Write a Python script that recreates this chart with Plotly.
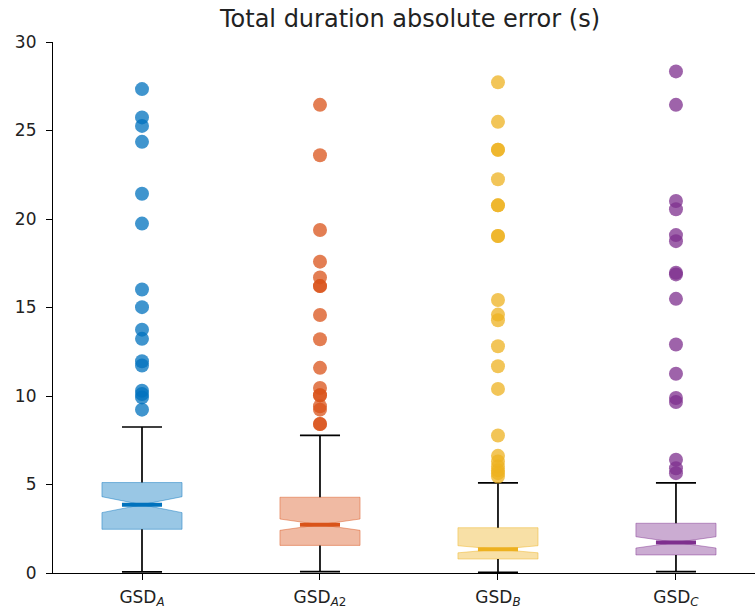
import plotly.graph_objects as go

# Groups and their tick labels
positions = [1, 2, 3, 4]
tick_labels = [
    "GSD<sub><i>A</i></sub>",
    "GSD<sub><i>A</i>2</sub>",
    "GSD<sub><i>B</i></sub>",
    "GSD<sub><i>C</i></sub>",
]
base_colors = ["#0072BD", "#D95319", "#EDB120", "#7E2F8E"]

# Box statistics per group (seconds)
q1 = [2.47, 1.56, 0.79, 1.02]
median = [3.86, 2.73, 1.34, 1.73]
q3 = [5.11, 4.28, 2.56, 2.81]
lower_whisker = [0.06, 0.08, 0.03, 0.08]
upper_whisker = [8.25, 7.77, 5.09, 5.09]
notch_half = [0.45, 0.32, 0.20, 0.32]

# Outliers per group (seconds)
outliers_A = [27.34, 25.74, 25.26, 24.36, 21.43, 19.74, 16.02, 15.02, 13.75, 13.23,
              11.96, 11.72, 10.30, 10.11, 9.92, 9.23]
outliers_A2 = [26.45, 23.60, 19.38, 17.59, 16.70, 16.21, 16.21, 14.58, 13.21, 11.59,
               10.45, 10.04, 10.04, 9.42, 9.23, 8.42, 8.42]
outliers_B = [27.72, 25.49, 23.91, 23.91, 22.25, 20.77, 20.77, 19.04, 19.04, 15.42,
              14.60, 14.28, 12.81, 11.68, 10.40, 7.77, 6.62, 6.30, 6.02, 5.80, 5.64, 5.45]
outliers_C = [28.34, 26.45, 21.02, 20.55, 19.09, 18.75, 16.96, 16.87, 15.49, 12.91,
              11.26, 9.89, 9.66, 6.40, 5.92, 5.64]
outliers = [outliers_A, outliers_A2, outliers_B, outliers_C]

BOX_WIDTH = 0.45
NOTCH_WIDTH = 0.5
CAP_HALF = BOX_WIDTH / 4
MED_HALF = BOX_WIDTH / 2 * (1 - NOTCH_WIDTH)


def rgba(hex_color, alpha):
    h = hex_color.lstrip("#")
    r, g, b = int(h[0:2], 16), int(h[2:4], 16), int(h[4:6], 16)
    return f"rgba({r},{g},{b},{alpha})"


fig = go.Figure()

# Notched boxes
for i, pos in enumerate(positions):
    c = base_colors[i]
    fig.add_trace(go.Box(
        x=[pos],
        q1=[q1[i]], median=[median[i]], q3=[q3[i]],
        lowerfence=[q1[i]], upperfence=[q3[i]],
        notched=True, notchspan=[notch_half[i]], notchwidth=NOTCH_WIDTH,
        width=BOX_WIDTH,
        fillcolor=rgba(c, 0.4),
        line=dict(color=rgba(c, 0.45), width=1),
        whiskerwidth=0,
        boxpoints=False,
        showlegend=False,
        hoverinfo="skip",
    ))

# Whiskers and caps
for i, pos in enumerate(positions):
    xs = [pos, pos, None, pos, pos, None,
          pos - CAP_HALF, pos + CAP_HALF, None,
          pos - CAP_HALF, pos + CAP_HALF]
    ys = [q1[i], lower_whisker[i], None, q3[i], upper_whisker[i], None,
          lower_whisker[i], lower_whisker[i], None,
          upper_whisker[i], upper_whisker[i]]
    fig.add_trace(go.Scatter(
        x=xs, y=ys, mode="lines",
        line=dict(color="black", width=1.7),
        showlegend=False, hoverinfo="skip",
    ))

# Median bars
for i, pos in enumerate(positions):
    fig.add_trace(go.Scatter(
        x=[pos - MED_HALF, pos + MED_HALF], y=[median[i], median[i]],
        mode="lines",
        line=dict(color=base_colors[i], width=4),
        showlegend=False, hoverinfo="skip",
    ))

# Outliers
for i, pos in enumerate(positions):
    fig.add_trace(go.Scatter(
        x=[pos] * len(outliers[i]), y=outliers[i],
        mode="markers",
        marker=dict(color=rgba(base_colors[i], 0.75), size=14, line=dict(width=0)),
        showlegend=False, hoverinfo="skip",
    ))

axis_font = dict(family="DejaVu Sans", size=17, color="#222")

fig.update_layout(
    width=755, height=612,
    margin=dict(l=53, r=0, t=42, b=39),
    paper_bgcolor="white", plot_bgcolor="white",
    boxmode="overlay",
    font=dict(family="DejaVu Sans", color="black"),
    title=dict(
        text="Total duration absolute error (s)",
        font=dict(family="DejaVu Sans", size=24, color="#222"),
        x=410 / 755, xanchor="center", xref="container",
        y=1 - 10 / 612, yanchor="top", yref="container",
    ),
    xaxis=dict(
        range=[0.5, 4.444],
        tickmode="array", tickvals=positions, ticktext=tick_labels,
        ticks="outside", ticklen=6, tickwidth=1.2, tickcolor="black",
        showline=True, linecolor="black", linewidth=1.2,
        showgrid=False, zeroline=False,
        tickfont=axis_font, ticklabelstandoff=2,
    ),
    yaxis=dict(
        range=[0, 30],
        tickmode="array", tickvals=[0, 5, 10, 15, 20, 25, 30],
        ticks="outside", ticklen=6, tickwidth=1.2, tickcolor="black",
        showline=True, linecolor="black", linewidth=1.2,
        showgrid=False, zeroline=False,
        tickfont=axis_font, ticklabelstandoff=6,
    ),
)

fig.write_html("out.html")
